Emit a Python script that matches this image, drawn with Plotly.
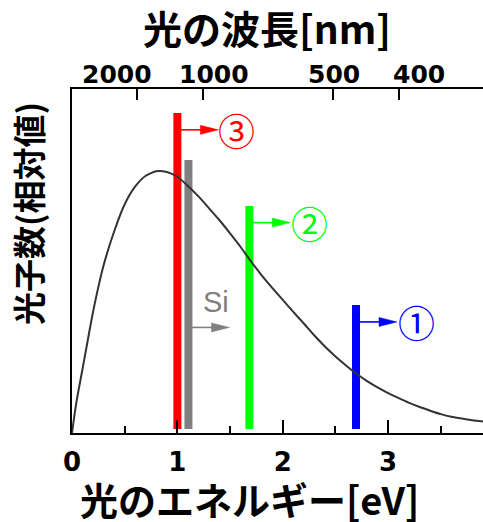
import plotly.graph_objects as go

# ---------------- data ----------------
energy_ev = [0, 0.025, 0.05, 0.1, 0.15, 0.2, 0.3, 0.4, 0.5, 0.6, 0.7, 0.8, 0.9,
             1.0, 1.1, 1.2, 1.3, 1.4, 1.5, 1.6, 1.7, 1.8, 1.9, 2.0, 2.1, 2.2,
             2.3, 2.4, 2.5, 2.6, 2.7, 2.8, 2.9, 3.0, 3.1, 3.2, 3.3, 3.4, 3.5,
             3.6, 3.7, 3.8, 3.9]
photon_rel = [0, 0.073, 0.137, 0.245, 0.355, 0.463, 0.640, 0.769, 0.873, 0.941,
              0.982, 0.999, 0.996, 0.978, 0.943, 0.903, 0.858, 0.812, 0.762,
              0.710, 0.654, 0.602, 0.554, 0.508, 0.462, 0.418, 0.372, 0.330,
              0.292, 0.258, 0.226, 0.198, 0.174, 0.152, 0.133, 0.115, 0.099,
              0.085, 0.072, 0.062, 0.055, 0.049, 0.044]

bar_labels = ["③", "Si", "②", "①"]
bar_energy = [1.0, 1.105, 1.683, 2.695]
bar_top = [1.221, 1.042, 0.866, 0.489]
arrow_level = [1.157, 0.403, 0.803, 0.424]
bar_colors = ["#ff0000", "#808080", "#00ff00", "#0000ff"]

energy_ticks = [0, 1, 2, 3]
energy_minor_ticks = [0.5, 1.5, 2.5, 3.5]
wavelength_ticks_nm = [2000, 1000, 500, 400]
wavelength_labels = ["2000", "1000", "500", "400"]

# ---------------- styling / layout parameters ----------------
W, H = 483, 522
ML, MR, MT, MB = 72, 0, 89, 89
X_RANGE = [0, 3.9]
Y_RANGE = [0, 1.313]
BAR_BASE = 0.015
BAR_WIDTH = 0.076
# pixel offsets of the top tick labels relative to their ticks
top_label_xshift = [-20, 11, 1, 20]
# label offsets in pixels relative to (bar x, arrow level)
label_shift = [(59, 0), (28, 25), (60, 0), (60, 0)]

fig = go.Figure()

fig.add_trace(go.Scatter(
    x=energy_ev, y=photon_rel, mode="lines",
    line=dict(color="#333333", width=2, shape="spline", smoothing=0.6),
    hoverinfo="skip", showlegend=False,
))

fig.add_trace(go.Bar(
    x=bar_energy, y=[t - BAR_BASE for t in bar_top], base=BAR_BASE,
    width=BAR_WIDTH, marker=dict(color=bar_colors, line=dict(width=0)),
    showlegend=False, hoverinfo="skip",
))

# dummy trace for top axis
fig.add_trace(go.Scatter(x=[None], y=[None], xaxis="x2", showlegend=False))

shapes = []
annotations = []
for i, lab in enumerate(bar_labels):
    c = bar_colors[i]
    shapes.append(dict(
        type="line", xref="x", yref="y", xsizemode="pixel", ysizemode="pixel",
        xanchor=bar_energy[i], yanchor=arrow_level[i],
        x0=0, x1=24, y0=0, y1=0, line=dict(color=c, width=1.6), layer="above"))
    shapes.append(dict(
        type="path", xref="x", yref="y", xsizemode="pixel", ysizemode="pixel",
        xanchor=bar_energy[i], yanchor=arrow_level[i],
        path="M 23,-4.5 L 41,0 L 23,4.5 Z", fillcolor=c,
        line=dict(color=c, width=0.5), layer="above"))
    dx, dy = label_shift[i]
    if lab == "Si":
        font = dict(family="Liberation Sans, Arial", size=29, color=c)
    else:
        font = dict(family="Noto Sans CJK JP", size=37, color=c)
    annotations.append(dict(
        x=bar_energy[i], y=arrow_level[i], xref="x", yref="y",
        text=lab, showarrow=False, xanchor="center", yanchor="middle",
        xshift=dx, yshift=dy, font=font))

tick_font = dict(family="DejaVu Sans", size=26, color="black", weight="bold")

# top (wavelength) tick labels
for w, lab, sh in zip(wavelength_ticks_nm, wavelength_labels, top_label_xshift):
    annotations.append(dict(
        x=1239.84 / w, y=1, xref="x2", yref="paper", text=lab,
        showarrow=False, xanchor="center", yanchor="middle",
        xshift=sh, yshift=15, font=dict(tick_font, size=25)))

title_font = dict(family="Noto Sans CJK JP", size=39, color="black", weight="bold")
PW, PH = W - ML - MR, H - MT - MB
annotations.append(dict(text="光の波長[nm]", xref="paper", yref="paper",
                        x=(267 - ML) / PW, y=(H - MB - 27) / PH,
                        showarrow=False, xanchor="center", yanchor="middle",
                        font=title_font))
annotations.append(dict(text="光のエネルギー[eV]", xref="paper", yref="paper",
                        x=(249 - ML) / PW, y=(H - MB - 499) / PH,
                        showarrow=False, xanchor="center", yanchor="middle",
                        font=dict(title_font, size=38)))
annotations.append(dict(text="光子数(相対値)", xref="paper", yref="paper",
                        x=(28 - ML) / PW, y=(H - MB - 214) / PH, textangle=-90,
                        showarrow=False, xanchor="center", yanchor="middle",
                        font=dict(family="Noto Sans CJK JP", size=33,
                                  color="black", weight="bold")))

fig.update_layout(
    width=W, height=H,
    margin=dict(l=ML, r=MR, t=MT, b=MB, pad=0, autoexpand=False),
    paper_bgcolor="white", plot_bgcolor="white",
    showlegend=False,
    xaxis=dict(
        range=X_RANGE, tickmode="array", tickvals=energy_ticks,
        ticktext=[str(t) for t in energy_ticks], tickangle=0, automargin=False,
        ticks="inside", ticklen=13, tickwidth=2, tickcolor="black",
        ticklabelstandoff=5,
        showline=True, linewidth=2, linecolor="black",
        showgrid=False, zeroline=False, tickfont=tick_font,
        minor=dict(tickmode="array", tickvals=energy_minor_ticks,
                   ticks="inside", ticklen=7, tickwidth=2, tickcolor="black",
                   showgrid=False),
    ),
    xaxis2=dict(
        range=X_RANGE, overlaying="x", side="top", tickmode="array",
        tickvals=[1239.84 / w for w in wavelength_ticks_nm],
        showticklabels=False, automargin=False,
        ticks="inside", ticklen=11, tickwidth=2, tickcolor="black",
        showline=True, linewidth=2, linecolor="black",
        showgrid=False, zeroline=False,
    ),
    yaxis=dict(
        range=Y_RANGE, showline=True, linewidth=2, linecolor="black",
        showticklabels=False, ticks="", showgrid=False, zeroline=False,
        automargin=False,
    ),
    shapes=shapes,
    annotations=annotations,
)

fig.write_html("out.html",
               config={"displayModeBar": False, "staticPlot": True},
               post_script="document.body.style.margin='0';document.body.style.overflow='hidden';")
